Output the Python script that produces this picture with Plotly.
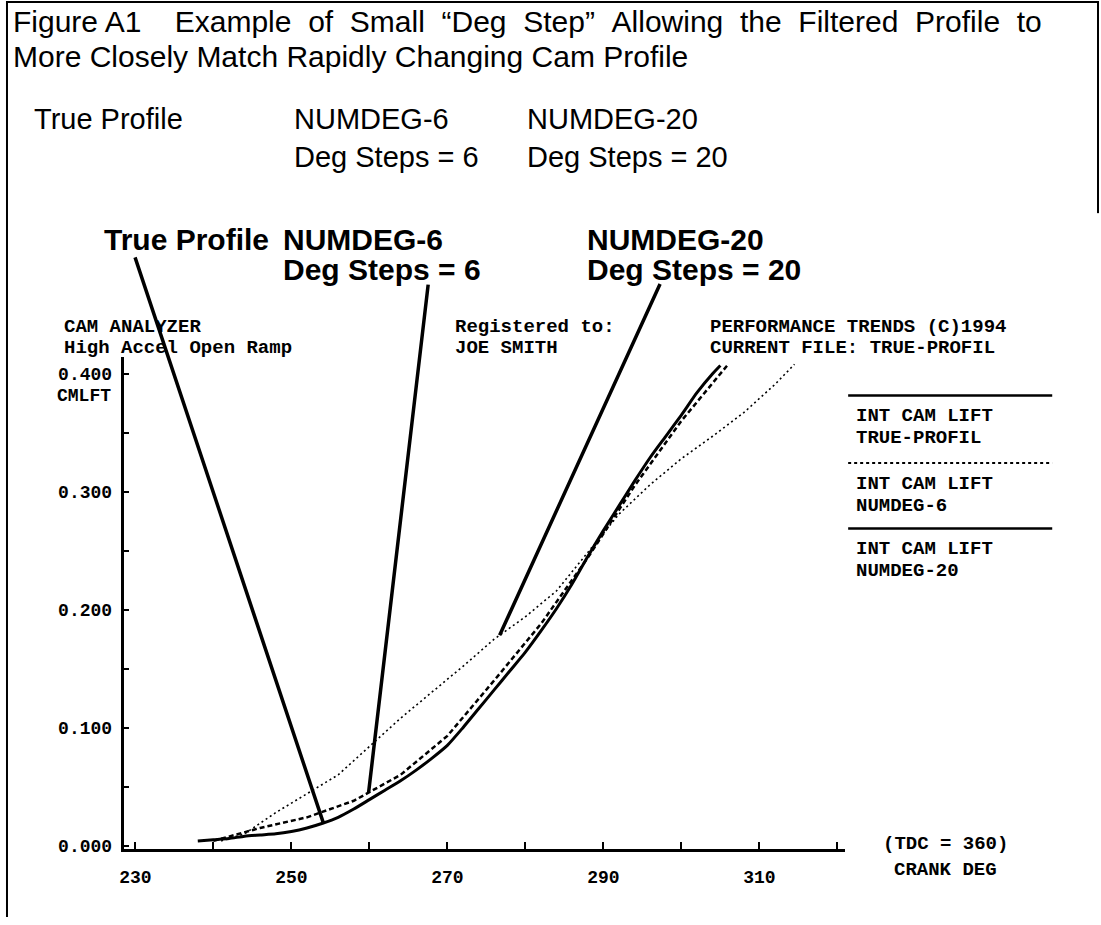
import numpy as np
import plotly.graph_objects as go

W, H = 1101, 925

# ---------------- data ----------------
true_deg = [238, 240, 242, 244, 246, 248, 250, 252, 254, 256, 258, 260, 262, 264, 266, 268,
            270, 272, 274, 276, 278, 280, 282, 284, 286, 288, 290, 292, 294, 296, 298, 300,
            302, 304, 305]
true_lift = [0.004, 0.005, 0.006, 0.008, 0.009, 0.010, 0.012, 0.015, 0.019, 0.024, 0.031, 0.039,
             0.047, 0.055, 0.064, 0.074, 0.085, 0.100, 0.116, 0.132, 0.148, 0.164, 0.182, 0.201,
             0.222, 0.245, 0.267, 0.288, 0.309, 0.329, 0.347, 0.365, 0.384, 0.400, 0.407]

numdeg6_deg = [240, 246, 252, 258, 264, 270, 276, 282, 288, 294, 300, 306]
numdeg6_lift = [0.004, 0.015, 0.024, 0.038, 0.060, 0.093, 0.140, 0.188, 0.244, 0.305, 0.360, 0.408]

numdeg20_deg = [241, 244, 248, 252, 256, 260, 264, 268, 272, 276, 280, 284, 288, 292, 296, 300,
                304, 308, 312, 314.5]
numdeg20_lift = [0.004, 0.010, 0.028, 0.044, 0.060, 0.084, 0.108, 0.130, 0.152, 0.175, 0.194,
                 0.216, 0.248, 0.281, 0.306, 0.328, 0.347, 0.367, 0.391, 0.408]

x_ticks = [230, 240, 250, 260, 270, 280, 290, 300, 310, 320]
x_ticktext = ["230", "", "250", "", "270", "", "290", "", "310", ""]
y_ticks = [0.0, 0.05, 0.1, 0.15, 0.2, 0.25, 0.3, 0.35, 0.4]
y_ticktext = ["0.000", "", "0.100", "", "0.200", "", "0.300", "", "0.400"]

legend_names = ["TRUE-PROFIL", "NUMDEG-6", "NUMDEG-20"]

# ---------------- geometry helpers ----------------
X0_PX, X1_PX = 120, 844
XR = [228.6, 321.0]
Y_BOT_PX, Y_TOP_PX = 856, 360
Y0_PX, Y_SCALE = 853, 1190.0
YR = [(Y0_PX - Y_BOT_PX) / Y_SCALE, (Y0_PX - Y_TOP_PX) / Y_SCALE]


def fx(px):
    return px / W


def fy(py):
    return 1 - py / H


def data_to_px(xv, yv):
    px = X0_PX + (xv - XR[0]) / (XR[1] - XR[0]) * (X1_PX - X0_PX)
    py = Y_BOT_PX - (yv - YR[0]) / (YR[1] - YR[0]) * (Y_BOT_PX - Y_TOP_PX)
    return px, py


MONO = "Liberation Mono"
SANS = "Liberation Sans"

fig = go.Figure()
fig.add_trace(go.Scatter(x=true_deg, y=true_lift, mode="lines", name=legend_names[0],
                         line=dict(color="black", width=3, shape="spline", smoothing=0.6),
                         showlegend=False))
fig.add_trace(go.Scatter(x=numdeg6_deg, y=numdeg6_lift, mode="lines", name=legend_names[1],
                         line=dict(color="black", width=2.5, dash="5px,3px"), showlegend=False))
fig.add_trace(go.Scatter(x=numdeg20_deg, y=numdeg20_lift, mode="lines", name=legend_names[2],
                         line=dict(color="black", width=1.6, dash="2px,3px"), showlegend=False))

annotations = []
shapes = []


def text(x, y, s, size, family, bold=False, anchor="left"):
    annotations.append(dict(x=fx(x), y=fy(y), xref="paper", yref="paper", text=s,
                            showarrow=False, xanchor=anchor, yanchor="middle",
                            font=dict(family=family, size=size, color="black",
                                      weight="bold" if bold else "normal")))


# Title (first line justified in the original) and typed labels
NB = "\u00a0"
title_words = ["Example", "of", "Small", "\u201cDeg", "Step\u201d", "Allowing", "the",
               "Filtered", "Profile", "to"]
text(6, 22, "Figure A1" + NB * 4 + (NB * 2).join(title_words), 30, SANS)
text(6, 57, "More Closely Match Rapidly Changing Cam Profile", 30, SANS)
text(27, 120, "True Profile", 29, SANS)
text(288, 120, "NUMDEG-6", 29, SANS)
text(288, 158, "Deg Steps = 6", 29, SANS)
text(522, 120, "NUMDEG-20", 29, SANS)
text(522, 158, "Deg Steps = 20", 29, SANS)

# Scanned bold labels
text(97, 242, "True Profile", 30, SANS, bold=True)
text(277, 242, "NUMDEG-6", 30, SANS, bold=True)
text(277, 272, "Deg Steps = 6", 30, SANS, bold=True)
text(583, 242, "NUMDEG-20", 30, SANS, bold=True)
text(583, 272, "Deg Steps = 20", 30, SANS, bold=True)

# Program header text
HS = 19
text(57, 330, "CAM ANALYZER", HS, MONO, bold=True)
text(57, 351, "High Accel Open Ramp", HS, MONO, bold=True)
text(450, 330, "Registered to:", HS, MONO, bold=True)
text(450, 351, "JOE SMITH", HS, MONO, bold=True)
text(706, 330, "PERFORMANCE TRENDS (C)1994", HS, MONO, bold=True)
text(706, 351, "CURRENT FILE: TRUE-PROFIL", HS, MONO, bold=True)
text(108, 399, "CMLFT", 18, MONO, bold=True, anchor="right")
text(945, 851, "(TDC = 360)", 19, MONO, bold=True, anchor="center")
text(945, 878, "CRANK DEG", 19, MONO, bold=True, anchor="center")

# Custom legend
leg_line_y = [399, 467, 533]
leg_dash = ["solid", "dot", "solid"]
for i, name in enumerate(legend_names):
    shapes.append(dict(type="line", xref="paper", yref="paper", x0=fx(847), x1=fx(1052),
                       y0=fy(leg_line_y[i]), y1=fy(leg_line_y[i]),
                       line=dict(color="black", width=2.5 if leg_dash[i] == "solid" else 2,
                                 dash=leg_dash[i])))
    text(853, leg_line_y[i] + 21, "INT CAM LIFT", 19, MONO, bold=True)
    text(853, leg_line_y[i] + 43, name, 19, MONO, bold=True)

# Leader lines from the scanned labels to the curves
leaders = [
    (true_deg, true_lift, 254.1, (131, 263)),
    (numdeg6_deg, numdeg6_lift, 259.9, (425, 290)),
    (numdeg20_deg, numdeg20_lift, 276.7, (658, 288)),
]
for xs, ys, xv, (sx, sy) in leaders:
    yv = float(np.interp(xv, xs, ys))
    px, py = data_to_px(xv, yv)
    annotations.append(dict(x=xv, y=yv, xref="x", yref="y", text="", showarrow=True,
                            arrowhead=0, arrowwidth=3.5, arrowcolor="black", standoff=0,
                            ax=sx - px, ay=sy - py))

# Outer frame
shapes.append(dict(type="line", xref="paper", yref="paper", x0=fx(2), x1=fx(2), y0=fy(1), y1=fy(925),
                   line=dict(color="black", width=2)))
shapes.append(dict(type="line", xref="paper", yref="paper", x0=fx(1), x1=fx(1099), y0=fy(2), y1=fy(2),
                   line=dict(color="black", width=2)))
shapes.append(dict(type="line", xref="paper", yref="paper", x0=fx(1098), x1=fx(1098), y0=fy(1), y1=fy(215),
                   line=dict(color="black", width=2)))

tickfont = dict(family=MONO, size=18, color="black", weight="bold")
fig.update_layout(
    width=W, height=H, margin=dict(l=0, r=0, t=0, b=0),
    paper_bgcolor="white", plot_bgcolor="white", showlegend=False,
    xaxis=dict(domain=[fx(X0_PX), fx(X1_PX)], range=XR, showline=True, linecolor="black",
               linewidth=3, ticks="inside", ticklen=7, tickwidth=2, tickcolor="black",
               tickmode="array", tickvals=x_ticks, ticktext=x_ticktext, tickfont=tickfont,
               showgrid=False, zeroline=False, anchor="y", ticklabelstandoff=10),
    yaxis=dict(domain=[fy(Y_BOT_PX), fy(Y_TOP_PX)], range=YR, showline=True, linecolor="black",
               linewidth=2.5, ticks="inside", ticklen=5, tickwidth=2, tickcolor="black",
               tickmode="array", tickvals=y_ticks, ticktext=y_ticktext, tickfont=tickfont,
               showgrid=False, zeroline=False, anchor="x", ticklabelstandoff=6),
    annotations=annotations, shapes=shapes,
)

fig.write_html("out.html", config={"displayModeBar": False},
               post_script="document.body.style.margin='0px';")
